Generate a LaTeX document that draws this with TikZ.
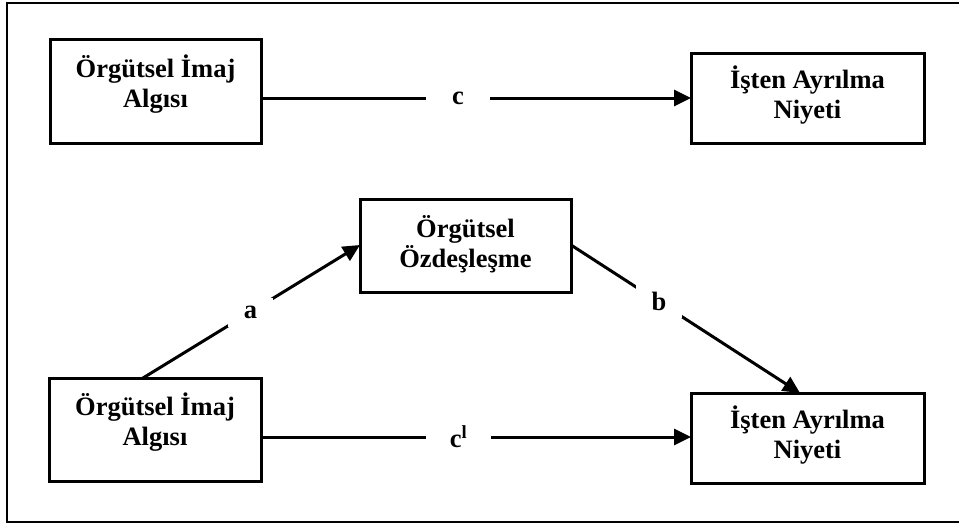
\documentclass[tikz,border=0pt]{standalone}
\usepackage{fontspec}
\setmainfont{Liberation Serif}
\usetikzlibrary{arrows.meta}
\begin{document}
\begin{tikzpicture}[x=1pt,y=-1pt,
  boxnode/.style={draw=black,line width=3pt,rectangle,inner sep=0pt},
  txt/.style={align=center,inner sep=0pt,font=\fontsize{26.5}{30}\selectfont\bfseries},
  conn/.style={line width=3pt,-{Triangle[length=17pt,width=16pt]}},
  lbl/.style={fill=white,font=\fontsize{26.5}{30}\selectfont\bfseries}]
  \useasboundingbox (0,0) rectangle (959,525);
  % outer frame (open on the right)
  \draw[line width=2.4pt] (962,3) -- (7,3) -- (7,522) -- (962,522);

  % top row
  \node[boxnode,minimum width=211pt,minimum height=104pt] (tl) at (155.5,91) {};
  \node[txt] (tlt) at (155.5,84) {Örgütsel İmaj\\Algısı};
  \node[boxnode,minimum width=233pt,minimum height=90pt] (tr) at (807.5,98) {};
  \node[txt] (trt) at (807.5,95) {İşten Ayrılma\\Niyeti};

  % mediator
  \node[boxnode,minimum width=211pt,minimum height=93pt] (md) at (465.5,245.5) {};
  \node[txt] (mdt) at (465.5,244) {Örgütsel\\Özdeşleşme};

  % bottom row
  \node[boxnode,minimum width=212pt,minimum height=103pt] (bl) at (155,429.5) {};
  \node[txt] (blt) at (155,422) {Örgütsel İmaj\\Algısı};
  \node[boxnode,minimum width=233pt,minimum height=90pt] (br) at (807.5,438) {};
  \node[txt] (brt) at (807.5,435) {İşten Ayrılma\\Niyeti};

  % anchor points on the box edges
  \coordinate (tlE) at (261,98);
  \coordinate (trW) at (691,98);
  \coordinate (blE) at (261,437);
  \coordinate (brW) at (691,437);
  \coordinate (blN) at (143,378);
  \coordinate (mdW) at (360,245);
  \coordinate (mdE) at (571,245);
  \coordinate (brN) at (800,393);

  % total effect
  \draw[conn] (tlE) -- (trW);
  \node[lbl,inner xsep=26pt,inner ysep=4pt] (c) at (458,98) {c};

  % direct effect
  \draw[conn] (blE) -- (brW);
  \node[lbl,inner xsep=24pt,inner ysep=4pt] (c1) at (458.5,437) {c\textsuperscript{l}};

  % indirect paths
  \draw[conn] (blN) -- (mdW);
  \node[lbl,inner xsep=16pt,inner ysep=8pt] (a) at (250.5,312.5) {a};
  \draw[conn] (mdE) -- (brN);
  \node[lbl,inner xsep=16pt,inner ysep=8pt] (b) at (659,301) {b};
\end{tikzpicture}
\end{document}
